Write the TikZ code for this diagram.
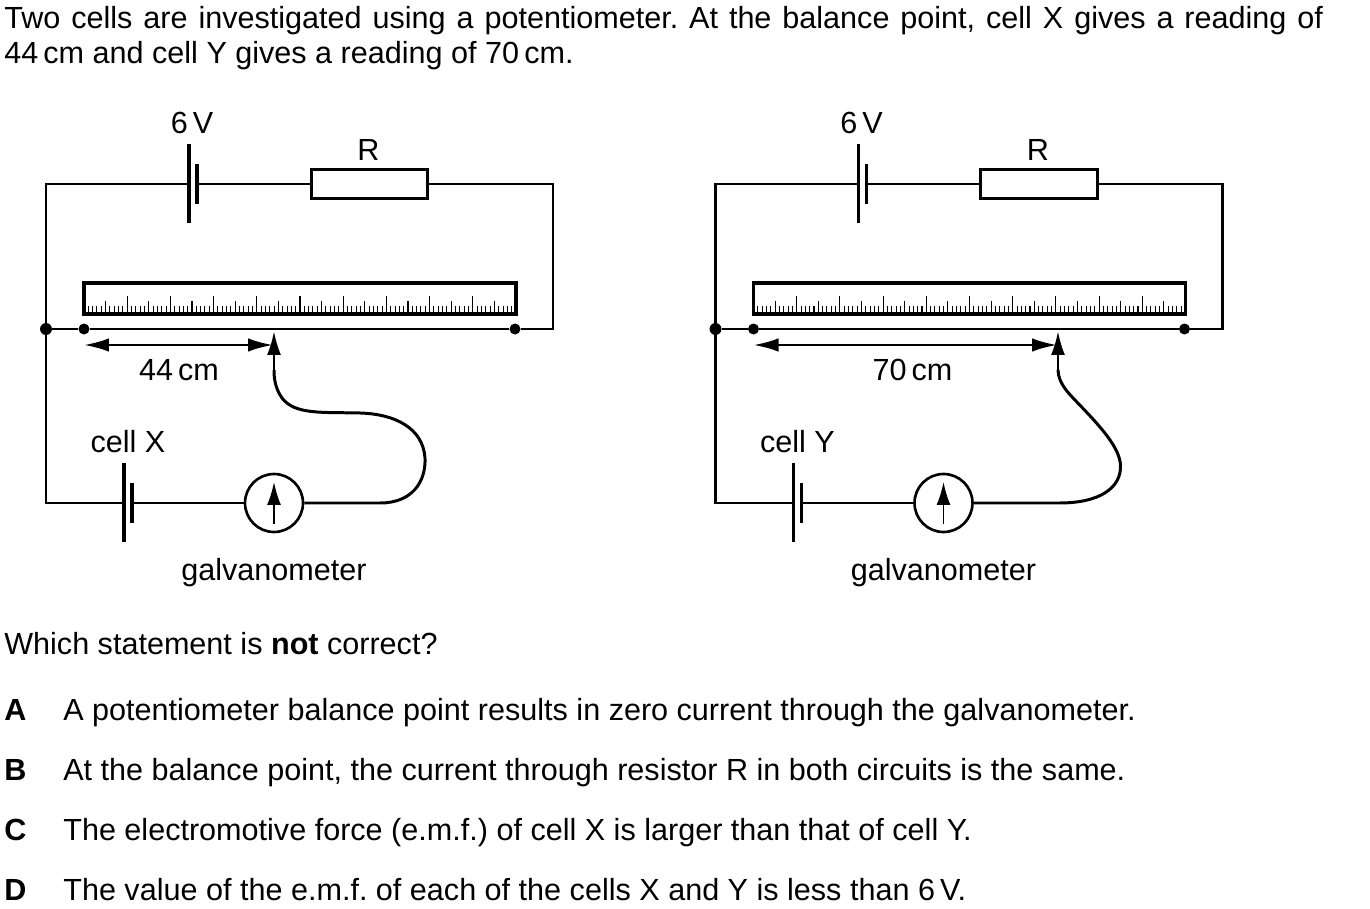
\documentclass[tikz,border=0pt]{standalone}
\usepackage{fontspec}
\setmainfont{Liberation Sans}
\usetikzlibrary{arrows.meta}
\tikzset{
	wire/.style={line width=1.7pt},
	thinwire/.style={line width=0.7pt},
	plate/.style={line width=2pt},
	dot/.style={circle, fill=black, inner sep=0pt, minimum size=0.22cm},
	resistor/.style={draw, line width=1.7pt, fill=white, minimum width=2.34cm, minimum height=0.58cm, inner sep=0pt},
	galv/.style={circle, draw, line width=1.5pt, fill=white, minimum size=1.16cm, inner sep=0pt},
	label/.style={inner sep=0pt, anchor=base, font=\fontsize{17.4}{20}\selectfont},
	line/.style={inner sep=0pt, anchor=base west, font=\fontsize{17.4}{20}\selectfont},
	tips/.style={{Latex[length=0.5cm,width=0.27cm]}-{Latex[length=0.5cm,width=0.27cm]}, line width=1.5pt},
}
% slider x, reading x, reading, cell name, lead path
\def\potcircuit#1#2#3#4#5{
	\coordinate (tl) at (46,184);
	\coordinate (tr) at (553,184);
	\coordinate (er) at (553,329);
	\coordinate (bl) at (46,503);
	\node[dot, minimum size=0.24cm] (jn) at (46,329) {};
	\node[dot] (wl) at (84,329) {};
	\node[dot] (wr) at (515,329) {};
	\coordinate (sl) at (#1,331);
	
	\node[resistor] (R) at (369.5,184) {};
	\node[galv] (G) at (274,503) {};
	\coordinate (bat) at (189,184);
	\coordinate (batp) at (197,184);
	\coordinate (cell) at (124,503);
	\coordinate (cellp) at (132,503);
	
	\draw[wire] (bat) -- (tl) -- (bl) -- (cell);
	\draw[wire] (batp) -- (R.west);
	\draw[wire] (R.east) -- (tr) -- (er) -- (wr);
	\draw[wire] (jn) -- (wl);
	\draw[thinwire] (wl) -- (wr);
	\draw[wire] (cellp) -- (G.west);
	
	\draw[plate] (189,144) -- (189,223);
	\draw[plate] (197,164) -- (197,204);
	\draw[plate] (124,463) -- (124,542);
	\draw[plate] (132,483) -- (132,523);
	
	% ruler
	\draw[plate] (84,283) rectangle (516,314);
	\foreach \n in {1,...,99}{
		\pgfmathsetmacro{\tx}{84+\n*4.32}
		\pgfmathsetmacro{\tl}{int(mod(\n,10))==0 ? 17 : (int(mod(\n,5))==0 ? 12 : 7)}
		\draw[line width=0.6pt] (\tx,313) -- (\tx,313-\tl);
	}
	
	% meter
	\draw[-{Latex[length=0.46cm,width=0.28cm]}, line width=1pt] (274,524) -- (274,482);
	
	% slider and reading
	\draw[tips] (84,345) -- (#1-1,345);
	\draw[wire] (G.east) #5;
	\draw[-{Latex[length=0.48cm,width=0.28cm]}, line width=1.5pt] (#1,372) -- (sl);
	
	\node[label] (six) at (192,133) {6\,V};
	\node[label] (rname) at (368.5,161) {R};
	\node[label] (reading) at (#2,380) {#3\,cm};
	\node[label] (cellname) at (128,452) {cell #4};
	\node[label] (gname) at (274,580) {galvanometer};
}

\begin{document}
\begin{tikzpicture}[x=0.02cm, y=-0.02cm]
	%%%%% START %%%%%
	\useasboundingbox (0,0) rectangle (1370,909);
	
	\node[inner sep=0pt, anchor=north west, text width=26.38cm, align=justify, font=\fontsize{17.4}{19.9}\selectfont] (intro) at (4,6)
	{\frenchspacing Two cells are investigated using a potentiometer. At the balance point, cell X gives a reading of 44\,cm and cell Y gives a reading of 70\,cm.};
	
	\begin{scope}[name prefix=left-]
		\potcircuit{274}{179}{44}{X}{-- (380,503) .. controls (412,503) and (426,482) .. (425,458) .. controls (423,428) and (395,414) .. (360,413) .. controls (322,412) and (295,415) .. (282,398) .. controls (275,388) and (274,378) .. (274,370)}
	\end{scope}
	
	\begin{scope}[shift={(669.5,0)}, name prefix=right-]
		\potcircuit{388.5}{243}{70}{Y}{-- (390,503) .. controls (430,503) and (452,488) .. (451,465) .. controls (450,448) and (432,428) .. (415,410) .. controls (400,394) and (389,385) .. (388.5,370)}
	\end{scope}
	
	\node[line] (question) at (4,654) {\frenchspacing Which statement is \textbf{not} correct?};
	
	\node[line] (keya) at (4,720) {\textbf{A}};
	\node[line] (opta) at (63,720) {\frenchspacing A potentiometer balance point results in zero current through the galvanometer.};
	\node[line] (keyb) at (4,780) {\textbf{B}};
	\node[line] (optb) at (63,780) {\frenchspacing At the balance point, the current through resistor R in both circuits is the same.};
	\node[line] (keyc) at (4,840) {\textbf{C}};
	\node[line] (optc) at (63,840) {\frenchspacing The electromotive force (e.m.f.) of cell X is larger than that of cell Y.};
	\node[line] (keyd) at (4,900) {\textbf{D}};
	\node[line] (optd) at (63,900) {\frenchspacing The value of the e.m.f. of each of the cells X and Y is less than 6\,V.};
	
	%%%%% END %%%%%
\end{tikzpicture}
\end{document}
